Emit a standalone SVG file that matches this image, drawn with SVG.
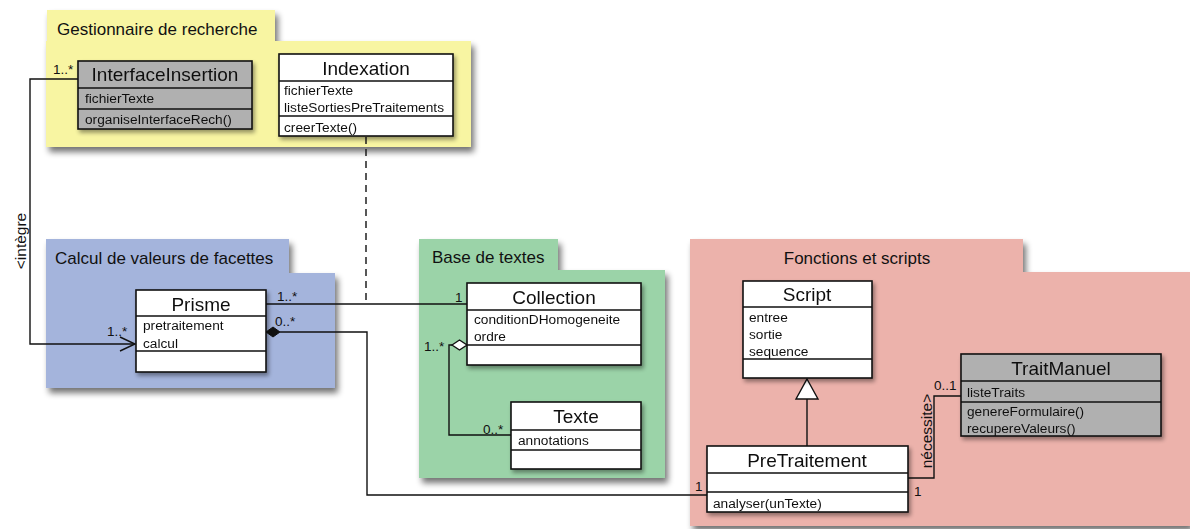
<svg xmlns="http://www.w3.org/2000/svg" width="1190" height="529" viewBox="0 0 1190 529">
<defs>
<filter id="sh" x="-10%" y="-10%" width="130%" height="130%">
<feGaussianBlur in="SourceAlpha" stdDeviation="3"/>
<feOffset dx="3" dy="5" result="b"/>
<feComponentTransfer><feFuncA type="linear" slope="0.55"/></feComponentTransfer>
<feMerge><feMergeNode/><feMergeNode in="SourceGraphic"/></feMerge>
</filter>
<filter id="shc" x="-10%" y="-10%" width="130%" height="130%">
<feGaussianBlur in="SourceAlpha" stdDeviation="2"/>
<feOffset dx="2" dy="3" result="b"/>
<feComponentTransfer><feFuncA type="linear" slope="0.4"/></feComponentTransfer>
<feMerge><feMergeNode/><feMergeNode in="SourceGraphic"/></feMerge>
</filter>
</defs>
<style>
text{font-family:"Liberation Sans",Arial,sans-serif;fill:#111}
.pk{font-size:17px}
.ti{font-size:19px;text-anchor:middle}
.at{font-size:13.7px}
.lb{font-size:13.5px}
.rl{font-size:15.5px;text-anchor:middle}
.cl{fill:#fff;stroke:#111;stroke-width:1.6}
.gr{fill:#b0b0b0;stroke:#111;stroke-width:1.6}
.ln{fill:none;stroke:#111;stroke-width:1.4}
</style>

<g id="pkg-gestionnaire">
<path d="M47,10 H275 V41 H471 V147 H46 V41 H47 Z" fill="#f8f5a2" filter="url(#sh)"/>
<text class="pk" x="57" y="35">Gestionnaire de recherche</text>
</g>
<g id="pkg-calcul">
<path d="M46,239 H289 V273 H335 V388 H46 Z" fill="#a4b4dc" filter="url(#sh)"/>
<text class="pk" x="55" y="264">Calcul de valeurs de facettes</text>
</g>
<g id="pkg-base">
<path d="M419,239 H558 V270 H665 V478 H419 Z" fill="#9bd3a8" filter="url(#sh)"/>
<text class="pk" x="432" y="263">Base de textes</text>
</g>
<g id="pkg-fonctions">
<path d="M690,239 H1023 V272 H1190 V526 H690 Z" fill="#ecb2ab" filter="url(#sh)"/>
<text class="pk" x="857" y="264" text-anchor="middle">Fonctions et scripts</text>
</g>

<g id="connectors">
<path class="ln" d="M78,79 H30 V344 H134"/>
<path class="ln" d="M120,337 L135,344 L120,351"/>
<path class="ln" d="M366,137 V303" stroke-dasharray="7,5"/>
<path class="ln" d="M266,304 H467"/>
<path class="ln" d="M280,332 H367 V495 H707"/>
<path d="M266,332 L273,327 L280,332 L273,337 Z" fill="#111" stroke="#111" stroke-width="1"/>
<path class="ln" d="M452,345 H449 V435 H511"/>
<path d="M452,345 L459.5,340 L467,345 L459.5,350 Z" fill="#fff" stroke="#111" stroke-width="1.4"/>
<path class="ln" d="M807,399 V446"/>
<path d="M807,379 L818,399 L796,399 Z" fill="#fff" stroke="#111" stroke-width="1.4"/>
<path class="ln" d="M908,478 H934 V396 H961"/>
<text class="lb" x="53" y="74">1..*</text>
<text class="lb" x="107" y="336">1..*</text>
<text class="rl" transform="translate(26,241) rotate(-90)">&lt;intègre</text>
<text class="lb" x="277" y="301">1..*</text>
<text class="lb" x="275" y="326">0..*</text>
<text class="lb" x="455" y="302">1</text>
<text class="lb" x="424" y="351">1..*</text>
<text class="lb" x="483" y="434">0..*</text>
<text class="lb" x="695" y="491">1</text>
<text class="lb" x="914" y="496">1</text>
<text class="lb" x="934" y="390">0..1</text>
<text class="rl" transform="translate(932,431) rotate(-90)">nécessite&gt;</text>
</g>

<g id="InterfaceInsertion" filter="url(#shc)">
<rect class="gr" x="78" y="61" width="174" height="68"/>
<path class="ln" d="M78,88 H252 M78,109 H252" stroke-width="1.6"/>
<text class="ti" x="165" y="81">InterfaceInsertion</text>
<text class="at" x="85" y="103">fichierTexte</text>
<text class="at" x="85" y="124">organiseInterfaceRech()</text>
</g>
<g id="Indexation" filter="url(#shc)">
<rect class="cl" x="279" y="54" width="174" height="82"/>
<path class="ln" d="M279,81 H453 M279,116 H453" stroke-width="1.6"/>
<text class="ti" x="366" y="75">Indexation</text>
<text class="at" x="284" y="95">fichierTexte</text>
<text class="at" x="284" y="112">listeSortiesPreTraitements</text>
<text class="at" x="284" y="132">creerTexte()</text>
</g>
<g id="Prisme" filter="url(#shc)">
<rect class="cl" x="136" y="290" width="130" height="82"/>
<path class="ln" d="M136,316 H266 M136,351 H266" stroke-width="1.6"/>
<text class="ti" x="201" y="311">Prisme</text>
<text class="at" x="143" y="330">pretraitement</text>
<text class="at" x="143" y="348">calcul</text>
</g>
<g id="Collection" filter="url(#shc)">
<rect class="cl" x="467" y="283" width="174" height="82"/>
<path class="ln" d="M467,310 H641 M467,345 H641" stroke-width="1.6"/>
<text class="ti" x="554" y="304">Collection</text>
<text class="at" x="474" y="324">conditionDHomogeneite</text>
<text class="at" x="474" y="341">ordre</text>
</g>
<g id="Texte" filter="url(#shc)">
<rect class="cl" x="511" y="402" width="130" height="67"/>
<path class="ln" d="M511,430 H641 M511,450 H641" stroke-width="1.6"/>
<text class="ti" x="576" y="423">Texte</text>
<text class="at" x="518" y="445">annotations</text>
</g>
<g id="Script" filter="url(#shc)">
<rect class="cl" x="743" y="281" width="129" height="97"/>
<path class="ln" d="M743,307 H872 M743,359 H872" stroke-width="1.6"/>
<text class="ti" x="807" y="301">Script</text>
<text class="at" x="749" y="322">entree</text>
<text class="at" x="749" y="339">sortie</text>
<text class="at" x="749" y="356">sequence</text>
</g>
<g id="TraitManuel" filter="url(#shc)">
<rect class="gr" x="961" y="354" width="200" height="82"/>
<path class="ln" d="M961,381 H1161 M961,402 H1161" stroke-width="1.6"/>
<text class="ti" x="1061" y="375">TraitManuel</text>
<text class="at" x="967" y="397">listeTraits</text>
<text class="at" x="967" y="416">genereFormulaire()</text>
<text class="at" x="967" y="433">recupereValeurs()</text>
</g>
<g id="PreTraitement" filter="url(#shc)">
<rect class="cl" x="707" y="446" width="201" height="66"/>
<path class="ln" d="M707,473 H908 M707,492 H908" stroke-width="1.6"/>
<text class="ti" x="807" y="467">PreTraitement</text>
<text class="at" x="713" y="508">analyser(unTexte)</text>
</g>
</svg>
